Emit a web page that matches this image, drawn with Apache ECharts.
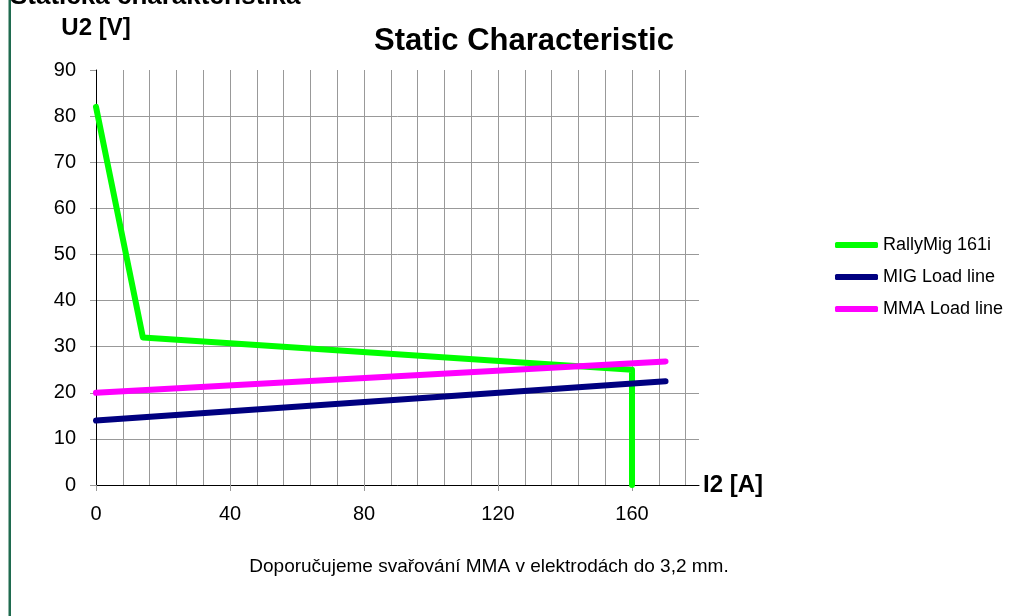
<!DOCTYPE html>
<html>
<head>
<meta charset="utf-8">
<title>Static Characteristic</title>
<script src="https://cdn.jsdelivr.net/npm/echarts@6/dist/echarts.min.js"></script>
<style>
  html, body { margin: 0; padding: 0; background: #fff; }
  #chart { width: 1033px; height: 616px; }
</style>
</head>
<body>
<div id="chart"></div>
<script>
// series values: current I2 [A] / voltage U2 [V]
const rallyI = [0, 14, 160, 160]
const rallyU = [82, 32, 25, 0]
const migI = [0, 170]
const migU = [14, 22.5]
const mmaI = [0, 170]
const mmaU = [20, 26.8]

const seriesNames = ['RallyMig 161i', 'MIG Load line', 'MMA Load line']
const seriesColors = ['#00ff00', '#000080', '#ff00ff']

// axis ranges
const xMin = 0
const xMax = 180
const xLabelStep = 40
const xGridStep = 8
const yMin = 0
const yMax = 90
const yStep = 10

const font = '"Liberation Sans", Arial, sans-serif'

function zip(xs, ys) {
  return xs.map(function(x, i) { return [x, ys[i]] })
}

const chart = echarts.init(document.getElementById('chart'), null, { renderer: 'canvas' })

const lineSeries = [zip(rallyI, rallyU), zip(migI, migU), zip(mmaI, mmaU)].map(function(d, i) {
  return {
    name: seriesNames[i],
    type: 'line',
    xAxisIndex: 0,
    data: d,
    symbol: 'none',
    animation: false,
    lineStyle: { color: seriesColors[i], width: 6, cap: 'round', join: 'round' },
    itemStyle: { color: seriesColors[i] }
  }
})

const option = {
  backgroundColor: '#fff',
  animation: false,
  grid: {
    left: 96,
    right: 334,
    top: 70,
    bottom: 131
  },
  legend: {
    orient: 'vertical',
    left: 835,
    top: 235,
    padding: 0,
    icon: 'roundRect',
    itemWidth: 43,
    itemHeight: 6,
    itemGap: 12,
    textStyle: { fontFamily: font, fontSize: 18, color: '#000', lineHeight: 20 },
    data: seriesNames
  },
  xAxis: [
    {
      type: 'value',
      min: xMin,
      max: xMax,
      interval: xGridStep,
      position: 'bottom',
      axisLine: { show: true, onZero: false, lineStyle: { color: '#000', width: 1 }},
      axisTick: { show: false },
      axisLabel: { show: false },
      splitLine: { show: true, showMaxLine: false, lineStyle: { color: '#999', width: 1 }},
      name: 'I2 [A]',
      nameLocation: 'end',
      nameGap: 4,
      nameTextStyle: { fontFamily: font, fontSize: 24, fontWeight: 'bold', color: '#000', padding: [0, 0, 28, 0] }
    },
    {
      type: 'value',
      min: xMin,
      max: xMax,
      interval: xLabelStep,
      position: 'bottom',
      axisLine: { show: false },
      axisTick: { show: true, length: 6, lineStyle: { color: '#999' }},
      axisLabel: { show: true, showMaxLabel: false, margin: 19, fontFamily: font, fontSize: 20, color: '#000' },
      splitLine: { show: false }
    }
  ],
  yAxis: {
    type: 'value',
    min: yMin,
    max: yMax,
    interval: yStep,
    axisLine: { show: true, lineStyle: { color: '#000', width: 1 }},
    axisTick: { show: true, length: 6, lineStyle: { color: '#999' }},
    axisLabel: { margin: 20, fontFamily: font, fontSize: 20, color: '#000' },
    splitLine: { show: true, showMaxLine: false, lineStyle: { color: '#999', width: 1 }},
    name: 'U2 [V]',
    nameLocation: 'end',
    nameGap: 30,
    nameTextStyle: { fontFamily: font, fontSize: 24, fontWeight: 'bold', color: '#000', align: 'center' }
  },
  graphic: [
    {
      type: 'rect',
      shape: { x: 8.5, y: 0, width: 2.5, height: 616 },
      style: { fill: '#1f6b4f' },
      silent: true
    },
    {
      type: 'text',
      style: {
        text: 'Statická charakteristika',
        x: 10, y: 10,
        align: 'left', verticalAlign: 'bottom',
        font: 'bold 26px ' + font,
        fill: '#000'
      }
    },
    {
      type: 'text',
      style: {
        text: 'Static Characteristic',
        x: 524, y: 41,
        align: 'center', verticalAlign: 'middle',
        font: 'bold 31px ' + font,
        fill: '#000'
      }
    },
    {
      type: 'text',
      style: {
        text: 'Doporučujeme svařování MMA v elektrodách do 3,2 mm.',
        x: 489, y: 567,
        align: 'center', verticalAlign: 'middle',
        font: '19px ' + font,
        fill: '#000'
      }
    }
  ],
  series: lineSeries
}

chart.setOption(option, true)
window.onresize = function() {
  chart.resize()
}
</script>
</body>
</html>
